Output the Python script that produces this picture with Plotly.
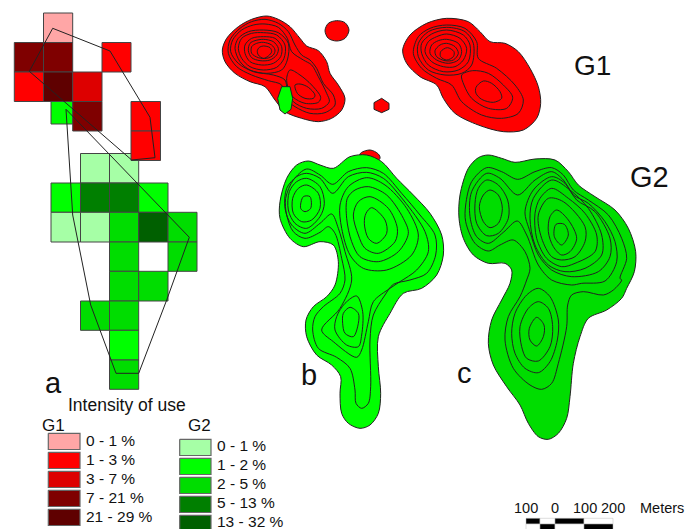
import plotly.graph_objects as go

# ---------- data: grid cells (column, row, intensity class) ----------
G1_COL = [1, 0, 1, 3, 0, 1, 2, 2, 4, 4]
G1_ROW = [0, 1, 1, 1, 2, 2, 2, 3, 3, 4]
G1_CLS = [0, 3, 3, 1, 1, 4, 2, 3, 1, 1]

G2_COL = [1, 2, 0, 1, 2, 3, 0, 1, 2, 3, 4, 2, 4, 2, 3, 1, 2, 2, 2]
G2_ROW = [0, 0, 1, 1, 1, 1, 2, 2, 2, 2, 2, 3, 3, 4, 4, 5, 5, 6, 7]
G2_CLS = [0, 0, 1, 3, 3, 1, 0, 0, 2, 4, 2, 2, 2, 2, 2, 2, 2, 1, 2]

G1_LABELS = ["0 - 1 %", "1 - 3 %", "3 - 7 %", "7 - 21 %", "21 - 29 %"]
G2_LABELS = ["0 - 1 %", "1 - 2 %", "2 - 5 %", "5 - 13 %", "13 - 32 %"]
SCALE_LABELS = ["100", "0", "100", "200", "Meters"]

# ---------- data: home-range hulls ----------
HULL_G1 = [(52.7,28.3),(110,51),(150,117.3),(155,157.7),(131.7,160),(29.3,71.3)]
HULL_G2 = [(66,109.3),(72,197),(72.7,215),(90.7,305),(116,373.3),(138.7,373.3),(166.7,300),(189.3,237.3)]

RB_OUT = [(170,18),(205,28),(240,50),(270,85),(290,108),(325,122),(350,155),(360,190),(385,225),(405,265),(395,300),(365,325),(325,335),(275,325),(225,305),(195,270),(165,230),(120,215),(75,190),(45,155),(37,120),(50,85),(85,50),(125,28)]
RB_LINES = [
 [(165,28),(205,40),(235,65),(255,105),(275,135),(300,150),(320,175),(340,220),(370,255),(375,285),(345,308),(300,310),(255,290),(225,265),(215,225),(175,212),(125,195),(80,170),(55,130),(60,90),(90,55),(125,35)],
 [(165,42),(205,52),(232,85),(245,125),(280,150),(305,165),(325,200),(350,250),(358,275),(335,295),(290,295),(250,275),(232,240),(225,210),(190,195),(130,185),(85,160),(62,125),(68,90),(95,60),(130,45)],
 [(240,180),(270,195),(305,225),(332,262),(325,277),(285,280),(250,262),(235,235),(230,205)],
 [(255,225),(270,222),(295,232),(315,255),(310,265),(285,265),(262,250)],
 [(160,60),(205,68),(235,100),(232,150),(215,180),(170,190),(120,180),(90,155),(75,115),(85,85),(115,65)],
 [(160,68),(200,75),(225,105),(222,145),(200,172),(160,180),(120,170),(95,145),(85,115),(95,85),(125,70)],
 [(160,80),(195,85),(215,110),(212,140),(190,160),(155,165),(120,155),(105,130),(105,105),(125,85)],
 [(160,88),(190,95),(205,115),(200,135),(180,150),(150,152),(125,143),(115,122),(120,100),(135,92)],
 [(160,97),(185,105),(195,120),(190,135),(170,145),(145,143),(125,130),(125,110),(140,100)],
 [(160,108),(180,113),(185,125),(175,138),(160,145),(145,135),(142,122),(148,112)],
]
R_BLOB = [(380,32),(405,38),(417,60),(405,85),(380,93),(355,85),(345,62),(355,40)]
R_HEX = [(515,265),(537,280),(537,298),(515,308),(492,298),(492,278)]
R_CAP = [(450,432),(480,420),(505,432),(510,445),(470,470)]
G_LENS = [(215,230),(240,230),(248,265),(243,298),(225,312),(210,300),(203,265)]

RC_OUT = [(170,25),(235,35),(270,65),(300,95),(345,100),(385,125),(420,175),(445,230),(452,280),(440,325),(400,360),(340,365),(265,345),(195,310),(160,265),(140,225),(90,200),(50,160),(38,120),(60,75),(110,40)]
RC_LINES = [
 [(170,45),(225,55),(260,95),(265,145),(320,175),(375,225),(400,270),(385,310),(335,325),(275,315),(215,275),(185,225),(140,205),(95,175),(70,130),(85,80),(120,55)],
 [(248,182),(295,190),(340,225),(368,262),(350,295),(295,295),(245,265),(222,225),(215,195)],
 [(258,232),(280,213),(305,220),(330,245),(335,265),(310,277),(275,268),(258,250)],
 [(170,52),(225,65),(250,100),(245,165),(215,190),(165,195),(115,180),(85,140),(85,100),(115,65)],
 [(170,60),(220,75),(240,105),(235,155),(205,180),(160,185),(115,165),(95,130),(95,100),(125,72)],
 [(170,72),(210,85),(230,115),(220,150),(195,170),(160,170),(125,155),(105,125),(115,95),(140,80)],
 [(170,88),(205,100),(215,125),(205,150),(175,160),(140,150),(120,130),(125,105),(145,92)],
 [(170,100),(195,110),(205,130),(190,150),(165,152),(140,140),(135,122),(150,105)],
 [(172,113),(192,125),(190,140),(170,150),(152,140),(152,125)],
]

# map b: "U" = upper crop, "L" = lower crop
BU_OUT_1 = [(115,48),(150,60),(190,70),(240,35),(290,30),(335,50),(380,100),(430,150),(480,205),(515,270),(520,330),(500,390),(455,430),(400,445)]
BL_OUT = [(300,100),(265,170),(265,260),(272,340),(265,400),(240,435),(210,445),(175,430),(155,400),(150,340),(152,290),(125,255),(80,225),(50,170),(48,120),(70,80),(110,50),(135,15)]
BU_OUT_2 = [(205,350),(190,300),(150,290),(100,305),(60,280),(30,220),(30,170),(50,100),(80,60)]
BL_A = [(250,105),(240,180),(242,320),(235,370),(215,385),(198,370),(195,330),(180,265),(140,232),(85,205),(68,150),(75,110),(100,80),(150,40),(165,0)]
BU_A = [(215,340),(195,265),(175,245),(150,262),(105,280),(70,260),(50,210),(47,160),(70,105),(110,72),(150,90),(188,118),(235,80),(290,68),(340,85),(395,145),(450,210),(495,270),(497,330),(470,385),(420,405),(370,418),(345,450)]
BL_B = [(150,85),(95,150),(130,185),(200,232),(215,210),(235,125),(250,65),(300,25),(330,5)]
BU_B = [(440,375),(475,320),(465,260),(400,165),(340,100),(290,82),(235,95),(188,145),(150,100),(110,85),(80,95),(50,130),(45,190),(65,240),(105,265),(150,235),(185,207),(205,250),(225,320),(245,405)]
BU_RINGS = [
 [(100,155),(120,155),(122,190),(105,200),(92,190)],
 [(110,120),(145,145),(150,190),(125,225),(95,230),(70,205),(68,160),(85,130)],
 [(110,100),(150,125),(163,175),(150,215),(110,250),(75,235),(55,195),(58,140),(80,110)],
 [(305,188),(345,225),(350,265),(320,295),(295,280),(283,235),(288,205)],
 [(300,155),(355,190),(382,250),(375,290),(325,325),(285,310),(265,270),(250,210),(265,170)],
 [(295,125),(350,150),(400,220),(415,265),(385,320),(325,350),(270,335),(245,290),(230,220),(232,160),(255,135)],
 [(290,98),(345,120),(410,190),(445,270),(425,330),(350,375),(280,370),(240,330),(215,250),(210,180),(235,125)],
]
BL_RINGS = [
 [(200,48),(218,95),(215,165),(205,200),(170,195),(135,150),(140,110),(165,70)],
 [(180,82),(205,100),(205,130),(190,170),(165,160),(158,130),(160,100)],
]

# map c
CU_OUT_1 = [(130,30),(170,40),(210,52),(270,42),(330,45),(370,80),(400,120),(450,155),(510,195),(550,250),(572,320),(568,380),(545,430)]
CL_OUT = [(455,55),(410,90),(355,115),(330,170),(310,250),(300,350),(290,415),(265,460),(235,478),(205,470),(175,430),(150,375),(110,320),(70,255),(55,190),(65,120),(95,60),(120,10)]
CU_OUT_2 = [(200,375),(180,355),(130,355),(85,330),(55,280),(42,220),(45,150),(70,70),(100,38)]
CU_A_1 = [(125,68),(170,80),(218,103),(270,80),(320,68),(355,90),(385,135),(430,165),(490,210),(530,280),(545,340),(525,400)]
CL_A = [(455,0),(430,30),(400,45),(340,35),(305,45),(293,75),(290,140),(265,250),(245,310),(215,328),(180,315),(130,265),(105,180),(115,110),(150,50),(170,0)]
CU_A_2 = [(255,370),(240,320),(205,285),(165,300),(130,318),(90,295),(62,230),(62,180),(80,110)]
CU_RINGS = [
 [(125,85),(165,100),(218,150),(270,105),(320,80),(355,105),(385,150),(430,175),(480,230),(510,290),(515,350),(480,408),(410,415),(380,420),(320,405),(280,360),(245,270),(217,228),(175,262),(130,295),(95,275),(75,215),(80,140)],
 [(125,105),(160,120),(188,165),(190,220),(160,265),(125,272),(95,235),(90,175),(100,130)],
 [(135,135),(160,150),(172,190),(160,235),(135,248),(115,230),(103,185),(115,150)],
 [(320,95),(360,115),(395,165),(450,200),(495,280),(495,335),(460,380),(380,395),(320,375),(280,330),(255,260),(240,200),(265,135)],
 [(320,105),(375,135),(430,190),(470,270),(470,330),(420,370),(360,380),(310,360),(270,300),(255,220),(265,160)],
 [(320,130),(370,160),(420,205),(455,270),(450,320),(390,355),(350,365),(305,340),(275,280),(270,205),(285,160)],
 [(310,160),(355,170),(420,245),(420,290),(390,335),(350,345),(320,335),(290,280),(280,210)],
 [(335,195),(370,225),(395,280),(375,320),(350,330),(325,305),(310,260),(315,215)],
 [(333,238),(358,238),(370,270),(350,300),(328,275)],
]
CL_RINGS = [
 [(205,25),(240,50),(265,120),(262,180),(240,245),(205,278),(165,265),(135,220),(125,160),(135,100),(170,45)],
 [(205,65),(235,85),(248,140),(240,200),(205,243),(170,235),(155,200),(150,140),(175,85)],
 [(200,112),(222,135),(220,170),(200,198),(180,180),(178,145)],
]

# ---------- styles and geometry ----------
W, H = 699, 529
G1_COLORS = ["#ffa6a6", "#ff0000", "#dd0000", "#7f0000", "#5f0000"]
G2_COLORS = ["#a6ffa6", "#00ff00", "#00dd00", "#007f00", "#006000"]
G1_X = [14.3, 43.5, 72.7, 102, 131, 160.5]
G1_Y = [13, 42.5, 72, 101.5, 131, 160.5]
G2_X = [51, 80.5, 109.5, 138.7, 168, 197]
G2_Y = [153.5, 183, 212.3, 242, 271.3, 301, 330.3, 360, 389.3]
GREEN_STUB = (51, 72.7, 101.5, 124)
INK = "#222222"


def crop(pts, ox, oy):
    return [(ox + x / 3, oy + y / 3) for x, y in pts]


def rb(p): return crop(p, 210, 10)
def rc(p): return crop(p, 390, 10)
def bu(p): return crop(p, 270, 145)
def bl(p): return crop(p, 290, 280)
def cu(p): return crop(p, 445, 145)
def cl(p): return crop(p, 470, 280)


fig = go.Figure()


def rect(x0, x1, y0, y1, fill, line="#444444", lw=1.0):
    fig.add_trace(go.Scatter(x=[x0, x1, x1, x0, x0], y=[y0, y0, y1, y1, y0], mode="lines",
                             fill="toself", fillcolor=fill, line=dict(color=line, width=lw),
                             hoverinfo="skip", showlegend=False))


def poly(pts, fill=None, lw=1.0, spline=True):
    pts = list(pts) + [pts[0]]
    fig.add_trace(go.Scatter(x=[p[0] for p in pts], y=[p[1] for p in pts], mode="lines",
                             fill="toself" if fill else "none", fillcolor=fill,
                             line=dict(color=INK, width=lw, shape="spline" if spline else "linear",
                                       smoothing=0.9),
                             hoverinfo="skip", showlegend=False))


# panel a
rect(GREEN_STUB[0], GREEN_STUB[1], GREEN_STUB[2], GREEN_STUB[3], G2_COLORS[1])
for c, r, k in zip(G2_COL, G2_ROW, G2_CLS):
    rect(G2_X[c], G2_X[c + 1], G2_Y[r], G2_Y[r + 1], G2_COLORS[k])
for c, r, k in zip(G1_COL, G1_ROW, G1_CLS):
    rect(G1_X[c], G1_X[c + 1], G1_Y[r], G1_Y[r + 1], G1_COLORS[k])
poly(HULL_G1, spline=False)
poly(HULL_G2, spline=False)

# red kernels
poly(rb(RB_OUT), "#ff0000")
for l in RB_LINES:
    poly(rb(l))
poly(rb(R_BLOB), "#ff0000")
poly(rb(R_HEX), "#ff0000", spline=False)
poly(rb(R_CAP), "#ff0000")
poly(rb(G_LENS), "#00ff00", spline=False)
poly(rc(RC_OUT), "#ff0000")
for l in RC_LINES:
    poly(rc(l))

# green kernels
poly(bu(BU_OUT_1) + bl(BL_OUT) + bu(BU_OUT_2), "#00ff00")
poly(bl(BL_A) + bu(BU_A))
poly(bl(BL_B) + bu(BU_B))
for l in BU_RINGS:
    poly(bu(l))
for l in BL_RINGS:
    poly(bl(l))

poly(cu(CU_OUT_1) + cl(CL_OUT) + cu(CU_OUT_2), "#00dd00")
poly(cu(CU_A_1) + cl(CL_A) + cu(CU_A_2))
for l in CU_RINGS:
    poly(cu(l))
for l in CL_RINGS:
    poly(cl(l))

# legend swatches
G1_LEG_Y = [433.3, 452.3, 471.3, 490.3, 509.3]
G2_LEG_Y = [439.3, 458.3, 477.3, 496.3, 515.3]
SW_H = 16.2
notes = []


def text(x, y, s, size, anchor="left"):
    notes.append(dict(x=x, y=y, text=s, showarrow=False, xanchor=anchor, yanchor="middle",
                      xref="x", yref="y", borderpad=0, borderwidth=0,
                      font=dict(family="Liberation Sans", size=size, color="#111111")))


for y, col, lab in zip(G1_LEG_Y, G1_COLORS, G1_LABELS):
    rect(48.3, 80, y, y + SW_H, col, "#666666", 1.2)
    text(86, y + 7.5, lab, 15.5)
for y, col, lab in zip(G2_LEG_Y, G2_COLORS, G2_LABELS):
    rect(179.7, 211, y, y + SW_H, col, "#666666", 1.2)
    text(217, y + 6, lab, 15.5)

text(68, 405, "Intensity of use", 17.5)
text(42, 425, "G1", 17)
text(188, 425, "G2", 17)
text(53, 383, "a", 29, "center")
text(309, 375, "b", 29, "center")
text(464, 373, "c", 29, "center")
text(592, 65, "G1", 28, "center")
text(649, 177, "G2", 29, "center")

# scale bar
BAR_X = [526, 540, 555, 584, 613]
TOP_FILL = ["black", "white", "black", "white"]
BOT_FILL = ["white", "black", "white", "black"]
for i in range(4):
    rect(BAR_X[i], BAR_X[i + 1], 518.3, 524, TOP_FILL[i], "#bbbbbb", 0.5)
    rect(BAR_X[i], BAR_X[i + 1], 524, 530, BOT_FILL[i], "#bbbbbb", 0.5)
for x, s in zip([526, 555, 585, 613, 662], SCALE_LABELS):
    text(x, 508, s, 14.5, "center")

fig.update_layout(width=W, height=H, margin=dict(l=0, r=0, t=0, b=0),
                  paper_bgcolor="white", plot_bgcolor="white", showlegend=False,
                  annotations=notes,
                  xaxis=dict(range=[0, W], visible=False, fixedrange=True),
                  yaxis=dict(range=[H, 0], visible=False, fixedrange=True))

fig.write_html("out.html", config=dict(displayModeBar=False),
               post_script="document.body.style.margin='0';document.body.style.overflow='hidden';")
